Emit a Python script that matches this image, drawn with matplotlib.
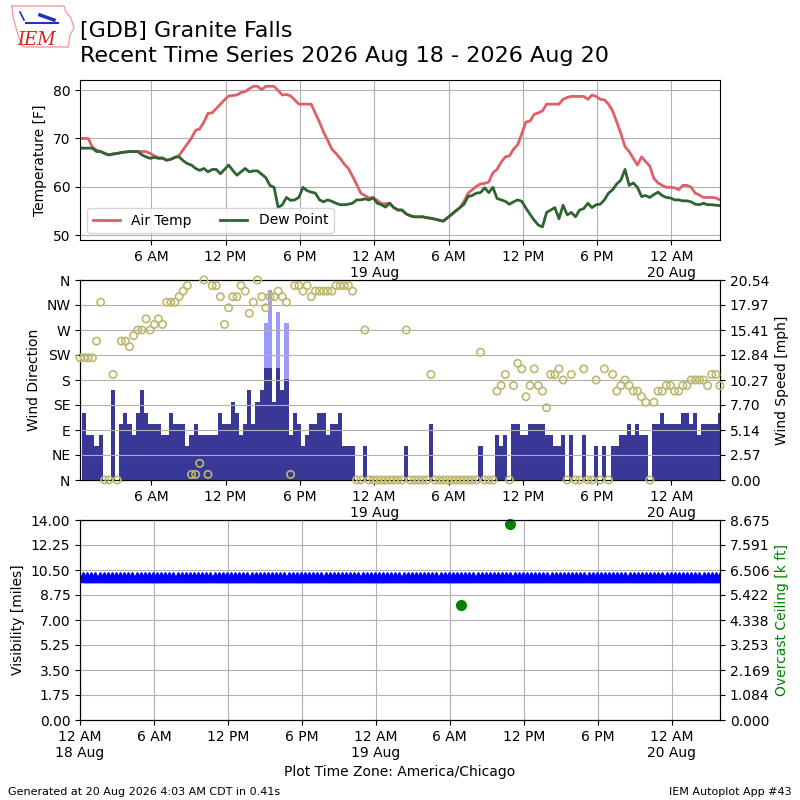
import matplotlib
matplotlib.use("Agg")
import matplotlib.pyplot as plt
import matplotlib.dates as mdates
from matplotlib.ticker import FuncFormatter
import numpy as np
import pandas as pd

# observation times, every 20 minutes (local time)
times = pd.date_range("2026-08-18 00:15", "2026-08-20 03:55", freq="20min")
xnum = mdates.date2num(times.to_pydatetime())

# air temperature [F]
tmpf = [70, 70, 70, 68.2, 67.6, 67.3, 66.9, 66.6, 66.8, 66.9, 67.1, 67.2, 67.3, 67.3, 67.3,
        67.3, 67.3, 66.9, 66.4, 66.0, 66.0, 65.5, 65.7, 66.1, 66.5, 67.7, 68.9, 70.1, 71.7, 72.0,
        73.4, 75.2, 75.3, 76.2, 77.1, 78.0, 78.8, 78.9, 79.0, 79.5, 79.7, 80.3, 80.8, 80.8, 80.1,
        80.8, 80.8, 80.8, 79.9, 79.0, 79.1, 78.8, 78.0,
        77.1, 77.1, 77.1, 77.1, 75.2, 73.4, 71.3, 69.6, 67.8, 66.9, 65.9, 64.7, 63.8, 62.2, 60.5,
        58.7, 58.2, 57.7, 57.8, 57.2, 56.5, 56.5, 56.6,
        55.7, 55.2, 55.2, 54.4, 54.0, 53.8, 53.8, 53.8, 53.6, 53.5, 53.3, 53.1, 52.9, 53.6, 54.3,
        55.0, 55.7,
        57.0, 58.7, 59.4, 60.1, 60.6, 60.7, 61.0, 62.9, 63.6,
        65.1, 66.2, 66.4, 67.8, 68.7, 71.0, 73.4, 73.6, 75.0, 75.3, 75.7, 77.1, 77.1, 77.1, 77.1,
        78.1, 78.5, 78.7, 78.7, 78.7, 78.7, 78.1, 79.0, 78.7, 78.1, 78.0, 77.1, 75.7, 73.4, 71.0,
        68.3, 67.3, 65.9, 64.5, 66.2, 65.2, 64.3, 61.7, 60.8, 60.3, 59.9, 59.9, 59.8, 59.4, 60.3,
        60.3, 59.9, 58.7, 58.3, 57.8, 57.8, 57.8, 57.7, 57.3]

# dew point [F]
dwpf = [68, 68, 68, 68,
        67.3, 67.3, 66.9, 66.6, 66.8, 66.9, 67.1, 67.2, 67.3, 67.3, 67.3, 66.6, 66.2, 65.9, 66.1,
        65.9, 65.9, 65.5, 65.7, 66.1, 66.2, 65.4, 64.8, 64.5, 63.8, 63.4, 63.8, 63.1, 63.6, 63.6,
        62.7, 63.6, 64.5, 63.4, 62.4, 63.1, 63.8, 63.1, 63.3, 63.3, 62.6, 61.9, 60.3, 59.9, 55.7,
        56.3, 57.8, 57.2, 57.3,
        57.8, 59.9, 59.2, 58.9, 58.7, 57.3, 56.9, 57.3, 57.0, 56.6, 56.3, 56.3, 56.4, 56.6, 57.3,
        57.3, 57.5, 57.3, 57.7, 56.6, 56.3, 55.8, 56.6, 55.7, 55.2, 55.2, 54.4, 54.0, 53.8, 53.8,
        53.8, 53.6, 53.5, 53.3, 53.1, 52.9, 53.6, 54.3, 55.0, 55.7, 56.4, 58.0, 58.2, 58.7, 58.8,
        59.8, 58.8, 59.9, 57.6,
        57.3, 57.0, 56.4, 56.9, 57.3, 57.0, 55.6, 54.3, 53.1, 52.1, 51.7, 54.7, 55.2, 55.7, 53.4,
        56.2, 54.2, 54.7, 53.8, 55.2, 55.5, 56.6, 55.7, 56.3, 56.4, 57.3, 58.7, 59.4, 60.6, 61.4,
        63.6, 60.3, 60.8, 59.9, 58.0, 58.2, 57.8, 58.4, 58.9, 58.2, 57.8, 57.7, 57.3, 57.3, 57.1,
        57.1, 56.9, 56.4, 56.3, 56.6, 56.3, 56.3, 56.2, 56.1]

# wind direction [deg], 0 = calm
drct = [220,
        220, 220, 220, 250, 320, 0, 0, 190, 0, 250,
        250, 240, 260, 270, 270, 290, 270, 280, 290, 280,
        320, 320, 320, 330, 340, 350, 10, 10, 30, 360,
        10, 350, 350, 330, 280, 310, 330, 330, 350, 340,
        300, 320, 360, 330, 310, 330, 330, 340, 330, 320,
        10, 350, 350, 340, 350, 330, 340, 340, 340, 340,
        340, 350, 350, 350, 350, 340, 0, 0, 270, 0,
        0, 0, 0, 0, 0, 0, 0, 0, 270, 0,
        0, 0, 0, 0, 190, 0, 0, 0, 0, 0,
        0, 0, 0, 0, 0, 0, 230, 0, 0, 0,
        160, 170, 190, 0, 170, 210, 200, 150, 170, 200,
        170, 160, 130, 190, 190, 200, 180, 0, 190, 0,
        0, 200, 0, 0, 180, 0, 200, 0, 190, 160,
        170, 180, 170, 160, 160, 150, 140, 0, 140, 160,
        160, 170, 170, 160, 160, 170, 170, 180, 180, 180,
        180, 170, 190, 190, 170]

# wind speed [knots]
sknt = [0,
        6, 4, 4, 3, 4, 0, 0, 8, 0, 5,
        6, 5, 4, 6, 8, 6, 5, 5, 5, 4,
        4, 6, 5, 5, 5, 3, 4, 5, 4, 4,
        4, 4, 4, 6, 5, 5, 7, 6, 4, 5,
        8, 5, 7, 8, 10, 10, 7, 10, 8, 9,
        4, 6, 5, 3, 4, 5, 5, 6, 6, 4,
        5, 5, 6, 3, 3, 3, 0, 0, 3, 0,
        0, 0, 0, 0, 0, 0, 0, 0, 3, 0,
        0, 0, 0, 0, 5, 0, 0, 0, 0, 0,
        0, 0, 0, 0, 0, 0, 3, 0, 0, 0,
        4, 3, 4, 0, 5, 5, 4, 4, 5, 5,
        5, 5, 4, 4, 3, 3, 4, 0, 4, 0,
        0, 4, 0, 0, 3, 0, 3, 0, 3, 3,
        4, 4, 5, 4, 5, 4, 4, 0, 5, 5,
        6, 5, 5, 5, 5, 6, 6, 5, 6, 4,
        5, 5, 5, 5, 6]

# wind gusts [knots], only reported on the afternoon of 18 Aug
gust_obs = [45, 46, 48, 50]
gust_kt = [14, 17, 15, 14]

# visibility [miles]
vsby = [10.0] * len(times)

# overcast ceiling [k ft], only two reports on 19 Aug
ceil_times = pd.to_datetime(["2026-08-19 06:55", "2026-08-19 10:55"])
ceil_kft = [5.0, 8.5]

KT2MPH = 1.15078
smph = np.array(sknt) * KT2MPH
gust = np.full(len(times), np.nan)
gust[gust_obs] = np.array(gust_kt) * KT2MPH
wind_top = np.nanmax(gust) * 1.05


def timefmt(x, pos=None):
    d = mdates.num2date(x)
    if d.hour == 0:
        return "12 AM\n" + d.strftime("%d %b").lstrip("0")
    h = d.hour % 12 or 12
    return "%d %s" % (h, "AM" if d.hour < 12 else "PM")


def setup_time(ax, x0, x1):
    ax.set_xlim(x0, x1)
    ax.xaxis.set_major_locator(mdates.HourLocator(byhour=[0, 6, 12, 18]))
    ax.xaxis.set_major_formatter(FuncFormatter(timefmt))


fig = plt.figure(figsize=(8, 8), dpi=100)

# logo (rough Iowa outline) and titles
logo = np.array([[12, 6], [64, 6], [66, 12], [71, 18], [74, 28], [70, 35], [68, 47],
                 [24, 47], [19, 38], [16, 28], [13, 17], [12, 6]], dtype=float)
fig.add_artist(plt.Line2D(logo[:, 0] / 800, 1 - logo[:, 1] / 800, color="#f3a0a0", lw=1.0))
fig.add_artist(plt.Line2D(np.array([26, 58]) / 800, 1 - np.array([23, 23]) / 800,
                          color="#2030c0", lw=1.5))
fig.add_artist(plt.Line2D(np.array([40, 54]) / 800, 1 - np.array([15, 20]) / 800,
                          color="#2030c0", lw=2.5))
fig.add_artist(plt.Line2D(np.array([20, 24]) / 800, 1 - np.array([12, 20]) / 800,
                          color="#2030c0", lw=1.2))
fig.text(17 / 800, 1 - 45 / 800, "IEM", color="#d62020", fontsize=13, style="italic",
         family="DejaVu Serif")
fig.text(0.1, 0.974, "[GDB] Granite Falls\nRecent Time Series 2026 Aug 18 - 2026 Aug 20",
         fontsize=16, va="top", ha="left", linespacing=1.3)

# temperature panel
ax1 = fig.add_axes([0.1, 0.7, 0.8, 0.2])
ax1.plot(xnum, tmpf, color="#df5f67", lw=2, label="Air Temp")
ax1.plot(xnum, dwpf, color="#2f6432", lw=2, label="Dew Point")
ax1.set_ylim(49, 82.1)
ax1.set_yticks([50, 60, 70, 80])
ax1.set_ylabel("Temperature [F]")
ax1.grid(True)
ax1.legend(loc="lower left", ncol=2, fontsize=10)
setup_time(ax1, xnum[0], xnum[-1])

# wind panel: speed bars (right axis) and direction circles (left axis)
ax2 = fig.add_axes([0.1, 0.4, 0.8, 0.25])
width = 20 / 1440.
ax2.bar(xnum, gust, width=width, color="#9b9bf9", zorder=1)
ax2.bar(xnum, smph, width=width, color="#393897", zorder=2)
ax2.set_ylim(0, wind_top)
ax2.set_yticks(np.linspace(0, wind_top, 9))
ax2.yaxis.set_major_formatter(FuncFormatter(lambda v, p: "%.2f" % v))
setup_time(ax2, xnum[0], xnum[-1])

ax2d = ax2.twinx()
ax2d.scatter(xnum, drct, s=28, facecolor="none", edgecolor="#bcb86e", lw=1.2,
             clip_on=False, zorder=3)
ax2d.set_ylim(0, 360)
ax2d.set_yticks(range(0, 361, 45))
ax2d.set_yticklabels(["N", "NE", "E", "SE", "S", "SW", "W", "NW", "N"])
ax2d.yaxis.tick_left()
ax2d.yaxis.set_label_position("left")
ax2d.set_ylabel("Wind Direction")
ax2d.grid(True)
setup_time(ax2d, xnum[0], xnum[-1])

# twinx resets the parent axis to the left side, so move it back
ax2.yaxis.tick_right()
ax2.yaxis.set_label_position("right")
ax2.set_ylabel("Wind Speed [mph]")

# visibility and ceiling panel
ax3 = fig.add_axes([0.1, 0.1, 0.8, 0.25])
ax3.plot(xnum, vsby, "^", color="b", ms=7, mec="b", ls="none")
ax3.set_ylim(0, 14)
ax3.set_yticks(np.linspace(0, 14, 9))
ax3.yaxis.set_major_formatter(FuncFormatter(lambda v, p: "%.2f" % v))
ax3.set_ylabel("Visibility [miles]")
ax3.grid(True)
setup_time(ax3, mdates.date2num(pd.Timestamp("2026-08-18 00:00").to_pydatetime()), xnum[-1])
ax3.set_xlabel("Plot Time Zone: America/Chicago")

ax3c = ax3.twinx()
ax3c.plot(mdates.date2num(ceil_times.to_pydatetime()), ceil_kft, "o", color="g", ms=7,
          ls="none", clip_on=False)
ax3c.set_ylim(0, 8.675)
ax3c.set_yticks(np.linspace(0, 8.675, 9))
ax3c.yaxis.set_major_formatter(FuncFormatter(lambda v, p: "%.3f" % v))
ax3c.set_ylabel("Overcast Ceiling [k ft]", color="g")

fig.text(0.01, 0.006, "Generated at 20 Aug 2026 4:03 AM CDT in 0.41s", fontsize=8)
fig.text(0.99, 0.006, "IEM Autoplot App #43", fontsize=8, ha="right")

fig.savefig("out.png", dpi=100)
